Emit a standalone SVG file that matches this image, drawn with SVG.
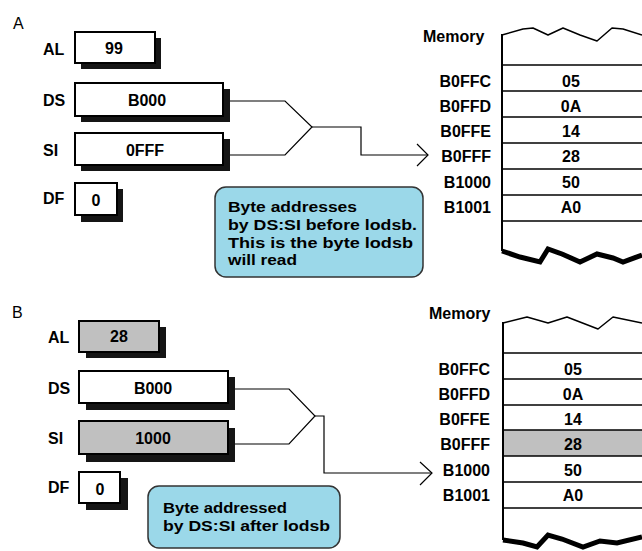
<svg xmlns="http://www.w3.org/2000/svg" width="642" height="551" viewBox="0 0 642 551">
<style>
text{font-family:"Liberation Sans",Arial,sans-serif;font-weight:bold;font-size:16px;fill:#000}
.sec{font-weight:normal;font-size:16px}
.mid{text-anchor:middle}
.end{text-anchor:end}
.call{font-size:15px}
.box{fill:#fff;stroke:#000;stroke-width:2}
.gray{fill:#c0c0c0}
.shadow{fill:#151515}
.conn{fill:none;stroke:#000;stroke-width:1.2}
.row{stroke:#000;stroke-width:1.5}
.edge{stroke:#000;stroke-width:2}
.wave{fill:none;stroke:#000;stroke-width:1.5;stroke-linejoin:round}
.jag{fill:none;stroke:#000;stroke-width:5;stroke-linejoin:miter}
.bubble{fill:#9bd8e9;stroke:#333;stroke-width:1.5}
</style>

<!-- Section A -->
<text x="13" y="29" class="sec">A</text>
<g id="A-AL">
  <text x="43" y="55">AL</text>
  <rect x="81" y="38" width="80" height="31" class="shadow"/>
  <rect x="75" y="32" width="80" height="31" class="box"/>
  <text x="114" y="54" class="mid">99</text>
</g>
<g id="A-DS">
  <text x="43" y="106">DS</text>
  <rect x="81" y="89" width="149" height="33" class="shadow"/>
  <rect x="75" y="83" width="148" height="33" class="box"/>
  <text x="147" y="106" class="mid">B000</text>
</g>
<g id="A-SI">
  <text x="43" y="156">SI</text>
  <rect x="81" y="139" width="149" height="32" class="shadow"/>
  <rect x="75" y="133" width="148" height="32" class="box"/>
  <text x="145" y="156" class="mid">0FFF</text>
</g>
<g id="A-DF">
  <text x="43" y="204">DF</text>
  <rect x="81" y="189" width="42" height="33" class="shadow"/>
  <rect x="75" y="183" width="42" height="32" class="box"/>
  <text x="96" y="206" class="mid">0</text>
</g>
<g id="A-memory">
  <text x="423" y="42">Memory</text>
  <polyline class="wave" points="502,35 523,29 533,28 548,35 563,28 580,35 597,41 612,28 623,29 642,35"/>
  <line x1="502" y1="34" x2="502" y2="251" class="edge"/>
  <line x1="502" y1="65" x2="642" y2="65" class="row"/>
  <line x1="502" y1="91" x2="642" y2="91" class="row"/>
  <line x1="502" y1="117" x2="642" y2="117" class="row"/>
  <line x1="502" y1="143" x2="642" y2="143" class="row"/>
  <line x1="502" y1="169" x2="642" y2="169" class="row"/>
  <line x1="502" y1="195" x2="642" y2="195" class="row"/>
  <line x1="502" y1="221" x2="642" y2="221" class="row"/>
  <polyline class="jag" points="502,251 520,257 540,262 548,249 562,254 580,262 597,254 613,258 623,262 642,255"/>
  <text x="491" y="87" class="end">B0FFC</text>
  <text x="491" y="112" class="end">B0FFD</text>
  <text x="491" y="137" class="end">B0FFE</text>
  <text x="491" y="162" class="end">B0FFF</text>
  <text x="491" y="188" class="end">B1000</text>
  <text x="491" y="213" class="end">B1001</text>
  <text x="571" y="87" class="mid">05</text>
  <text x="571" y="112" class="mid">0A</text>
  <text x="571" y="137" class="mid">14</text>
  <text x="571" y="162" class="mid">28</text>
  <text x="571" y="188" class="mid">50</text>
  <text x="571" y="213" class="mid">A0</text>
</g>
<g id="A-note">
  <rect x="215" y="187" width="208" height="90" rx="11" class="bubble"/>
  <text x="228" y="212" class="call" textLength="129" lengthAdjust="spacingAndGlyphs">Byte addresses</text>
  <text x="228" y="230" class="call" textLength="189" lengthAdjust="spacingAndGlyphs">by DS:SI before lodsb.</text>
  <text x="228" y="248" class="call" textLength="185" lengthAdjust="spacingAndGlyphs">This is the byte lodsb</text>
  <text x="228" y="265" class="call" textLength="69" lengthAdjust="spacingAndGlyphs">will read</text>
</g>

<!-- Section B -->
<text x="12" y="318" class="sec">B</text>
<g id="B-AL">
  <text x="48" y="343">AL</text>
  <rect x="86" y="327" width="80" height="31" class="shadow"/>
  <rect x="79" y="321" width="80" height="31" class="box gray"/>
  <text x="119" y="342" class="mid">28</text>
</g>
<g id="B-DS">
  <text x="48" y="394">DS</text>
  <rect x="86" y="377" width="149" height="33" class="shadow"/>
  <rect x="79" y="371" width="149" height="32" class="box"/>
  <text x="153" y="394" class="mid">B000</text>
</g>
<g id="B-SI">
  <text x="48" y="444">SI</text>
  <rect x="86" y="428" width="149" height="34" class="shadow"/>
  <rect x="79" y="421" width="149" height="33" class="box gray"/>
  <text x="153" y="444" class="mid">1000</text>
</g>
<g id="B-DF">
  <text x="48" y="493">DF</text>
  <rect x="86" y="478" width="42" height="32" class="shadow"/>
  <rect x="79" y="472" width="41" height="31" class="box"/>
  <text x="100" y="495" class="mid">0</text>
</g>
<g id="B-memory">
  <text x="429" y="319">Memory</text>
  <polyline class="wave" points="503,323 527,317 548,323 567,317 598,329 613,317 642,323"/>
  <rect x="503" y="430" width="139" height="26" class="gray"/>
  <line x1="503" y1="322" x2="503" y2="540" class="edge"/>
  <line x1="503" y1="353" x2="642" y2="353" class="row"/>
  <line x1="503" y1="379" x2="642" y2="379" class="row"/>
  <line x1="503" y1="405" x2="642" y2="405" class="row"/>
  <line x1="503" y1="430" x2="642" y2="430" class="row"/>
  <line x1="503" y1="456" x2="642" y2="456" class="row"/>
  <line x1="503" y1="482" x2="642" y2="482" class="row"/>
  <line x1="503" y1="508" x2="642" y2="508" class="row"/>
  <polyline class="jag" points="503,540 523,543 537,547 548,535 562,539 583,547 600,541 617,543 642,537"/>
  <text x="490" y="375" class="end">B0FFC</text>
  <text x="490" y="400" class="end">B0FFD</text>
  <text x="490" y="425" class="end">B0FFE</text>
  <text x="490" y="450" class="end">B0FFF</text>
  <text x="490" y="476" class="end">B1000</text>
  <text x="490" y="501" class="end">B1001</text>
  <text x="573" y="375" class="mid">05</text>
  <text x="573" y="400" class="mid">0A</text>
  <text x="573" y="425" class="mid">14</text>
  <text x="573" y="450" class="mid">28</text>
  <text x="573" y="476" class="mid">50</text>
  <text x="573" y="501" class="mid">A0</text>
</g>
<g id="B-note">
  <rect x="148" y="486" width="192" height="62" rx="11" class="bubble"/>
  <text x="163" y="513" class="call" textLength="124" lengthAdjust="spacingAndGlyphs">Byte addressed</text>
  <text x="163" y="531" class="call" textLength="167" lengthAdjust="spacingAndGlyphs">by DS:SI after lodsb</text>
</g>

<g id="connectors">
  <polyline class="conn" points="230,101 285,101 312,127 285,155 230,155"/>
  <polyline class="conn" points="312,127 361,127 361,155 428,155"/>
  <polyline class="conn" points="417,144 428,155 417,166"/>
  <polyline class="conn" points="235,389 289,389 315,416 289,444 235,444"/>
  <polyline class="conn" points="315,416 324,416 324,473 432,473"/>
  <polyline class="conn" points="420,462 432,473 420,485"/>
</g>
</svg>
